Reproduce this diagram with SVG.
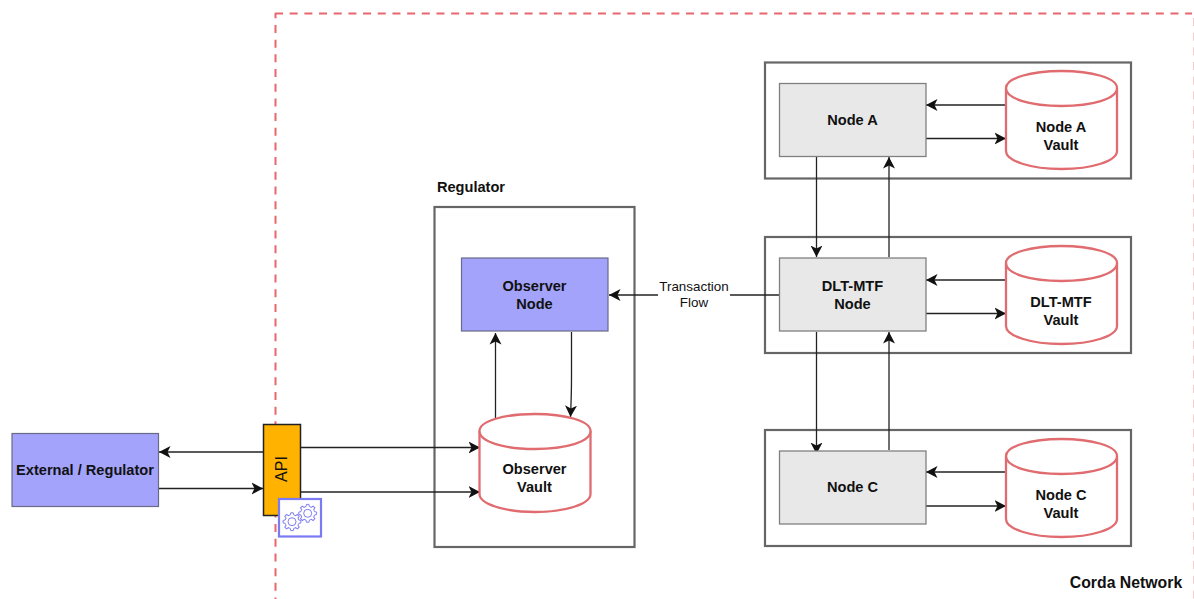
<svg xmlns="http://www.w3.org/2000/svg" width="1194" height="599" viewBox="0 0 1194 599">
<style>
text{font-family:"Liberation Sans",Arial,sans-serif;fill:#111;text-anchor:middle}
.b{font-weight:700;font-size:14.600px}
.box{fill:#fff;stroke:#666;stroke-width:2.2}
.grey{fill:#e8e8e8;stroke:#808080;stroke-width:1.3}
.blue{fill:#a3a3fb;stroke:#6a6a8a;stroke-width:1.2}
.cyl{fill:#fff;stroke:#e06c70;stroke-width:2.3}
.c{fill:none;stroke:#222;stroke-width:1.3;marker-end:url(#a)}
.gear{fill:none;stroke:#7d7df0;stroke-width:1}
.dash{fill:none;stroke:#e8666c;stroke-width:2;stroke-dasharray:8 6.680}
</style>
<defs>
<marker id="a" markerUnits="userSpaceOnUse" markerWidth="14" markerHeight="14" refX="11.500" refY="6.500" orient="auto"><path d="M0 .5L11.500 6.500L0 12.500L3 6.500Z" fill="#111"/></marker>
<symbol id="cy" overflow="visible"><path class="cyl" d="M0 18C0 8 25 1 55.500 1S111 8 111 18V81C111 91 86 99 55.500 99S0 91 0 81Z"/><path class="cyl" d="M0 18C0 29 25 36 55.500 36S111 29 111 18"/></symbol>
<path id="t" class="gear" d="M6.470 -2.680L6.790 -1.690L8.910 -1.250V1.250L6.790 1.690L6.470 2.680"/>
<g id="gr"><circle class="gear" r="4"/><use href="#t"/><use href="#t" transform="rotate(45)"/><use href="#t" transform="rotate(90)"/><use href="#t" transform="rotate(135)"/><use href="#t" transform="rotate(180)"/><use href="#t" transform="rotate(225)"/><use href="#t" transform="rotate(270)"/><use href="#t" transform="rotate(315)"/></g>
</defs>
<path id="network-boundary" class="dash" d="M275 13.500H1192"/>
<path id="network-boundary-left" class="dash" style="stroke-dashoffset:2.700" d="M275.500 13V599"/>
<path id="network-boundary-right" class="dash" style="stroke-width:1;stroke-opacity:.35" d="M1193.500 18V599"/>
<text class="b" x="1126" y="588" style="font-size:15.800px">Corda Network</text>
<g id="regulator-group"><rect class="box" x="434.500" y="207" width="200" height="340"/><text class="b" x="471" y="192">Regulator</text></g>
<g id="group-a"><rect class="box" x="765" y="62.500" width="366" height="116"/></g>
<g id="group-mtf"><rect class="box" x="765" y="237" width="366" height="116"/></g>
<g id="group-c"><rect class="box" x="765" y="430" width="366" height="116"/></g>
<g id="connectors">
<path class="c" d="M1006 105H926"/><path class="c" d="M926 138.500H1006"/>
<path class="c" d="M816.500 157V257"/><path class="c" d="M889 257V157"/>
<path class="c" d="M1006 280H926"/><path class="c" d="M926 313.500H1006"/>
<path class="c" d="M816.500 332V454"/><path class="c" d="M889 450V332"/>
<path class="c" d="M1006 472H926"/><path class="c" d="M926 506H1006"/>
<path class="c" d="M779 295H609"/>
<path class="c" d="M495.500 418V333"/><path class="c" d="M571.500 332V377Q571.500 395 570.500 417"/>
<path class="c" d="M263 452H159"/><path class="c" d="M159 488.500H263"/>
<path class="c" d="M301 447.500H480"/><path class="c" d="M301 492H480"/>
</g>
<g id="flow-label"><rect x="658" y="279" width="72" height="32" fill="#fff"/><text x="694" y="291" font-size="13.400">Transaction</text><text x="694" y="307" font-size="13.400">Flow</text></g>
<g id="node-a"><rect class="grey" x="779.500" y="83.500" width="146.500" height="73"/><text class="b" x="852.500" y="125">Node A</text></g>
<g id="vault-a"><use href="#cy" x="1006" y="70"/><text class="b" x="1061" y="132">Node A</text><text class="b" x="1061" y="150">Vault</text></g>
<g id="node-mtf"><rect class="grey" x="779.500" y="258" width="146.500" height="73"/><text class="b" x="852.500" y="291">DLT-MTF</text><text class="b" x="852.500" y="309">Node</text></g>
<g id="vault-mtf"><use href="#cy" x="1006" y="245"/><text class="b" x="1061" y="307">DLT-MTF</text><text class="b" x="1061" y="325">Vault</text></g>
<g id="node-c"><rect class="grey" x="779.500" y="451" width="146.500" height="73"/><text class="b" x="852.500" y="492">Node C</text></g>
<g id="vault-c"><use href="#cy" x="1006" y="438"/><text class="b" x="1061" y="500">Node C</text><text class="b" x="1061" y="518">Vault</text></g>
<g id="observer-node"><rect class="blue" x="461.500" y="258" width="146.500" height="73"/><text class="b" x="534.500" y="291">Observer</text><text class="b" x="534.500" y="309">Node</text></g>
<g id="observer-vault"><use href="#cy" x="479.500" y="413"/><text class="b" x="534.500" y="474">Observer</text><text class="b" x="534.500" y="492">Vault</text></g>
<g id="external"><rect class="blue" x="12" y="433.500" width="146.500" height="73"/><text class="b" x="85" y="475">External / Regulator</text></g>
<g id="api"><rect x="263.500" y="424.500" width="37" height="91" fill="#ffb200" stroke="#222" stroke-width="1.500"/><text transform="translate(286.500 469) rotate(-90)" font-size="16">API</text></g>
<g id="gears"><rect x="279" y="499" width="42" height="37.500" fill="#fff" stroke="#7a7af5" stroke-width="2.200"/><use href="#gr" x="292" y="521.700"/><use href="#gr" x="307.700" y="513.300"/></g>
</svg>
